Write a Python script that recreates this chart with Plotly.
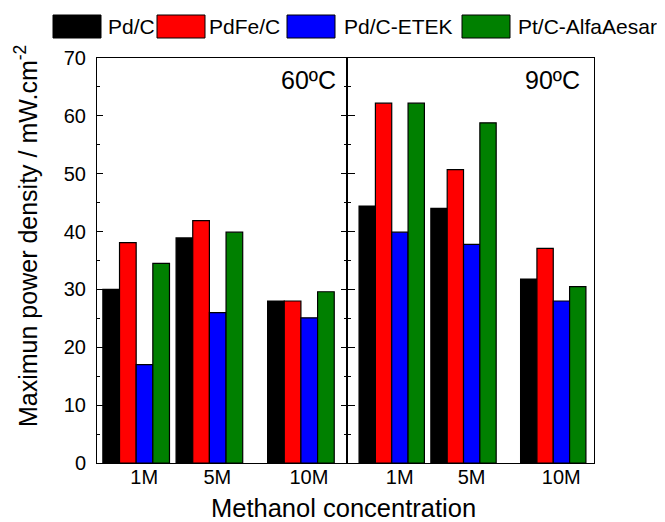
import plotly.graph_objects as go

# ---------------- data ----------------
series = ["Pd/C", "PdFe/C", "Pd/C-ETEK", "Pt/C-AlfaAesar"]
colors = ["#000000", "#FF0000", "#0000FF", "#008000"]
conc = [1, 5, 10]
conc_labels = ["1M", "5M", "10M"]
panel_labels = ["60ºC", "90ºC"]

pdc_60 = [30.0, 38.9, 28.0]
pdfec_60 = [38.1, 41.9, 28.0]
etek_60 = [17.0, 26.0, 25.1]
ptc_60 = [34.5, 39.9, 29.6]

pdc_90 = [44.4, 44.0, 31.8]
pdfec_90 = [62.2, 50.7, 37.1]
etek_90 = [39.9, 37.8, 28.0]
ptc_90 = [62.2, 58.8, 30.5]

panel_data = [
    [pdc_60, pdfec_60, etek_60, ptc_60],
    [pdc_90, pdfec_90, etek_90, ptc_90],
]

# ---------------- layout helpers ----------------
OFF = 8  # default page body margin
W, H = 665 - OFF, 522 - OFF
L, R, T, B = 97, 594, 58, 463  # plot area in reference px


def px_x(px):
    return (px - L) / (R - L)


def px_y(py):
    return (B - py) / (B - T)


split = px_x(346.5)
FONT = "Arial, Liberation Sans, sans-serif"

fig = go.Figure()
axes = [("x", "y"), ("x2", "y2")]
for p, (xa, ya) in enumerate(axes):
    for name, col, vals in zip(series, colors, panel_data[p]):
        fig.add_trace(go.Bar(
            x=conc, y=vals, name=name, xaxis=xa, yaxis=ya,
            marker=dict(color=col, line=dict(color="#000000", width=1.2)),
            showlegend=False,
        ))

xcommon = dict(
    tickmode="array", tickvals=conc, ticktext=conc_labels,
    ticks="", showline=True, linecolor="#000000", linewidth=1,
    mirror=True, showgrid=False, zeroline=False,
    tickfont=dict(size=20, family=FONT, color="#000000"),
    ticklabelshift=8, ticklabelstandoff=-4,
)
ycommon = dict(
    range=[0, 70], dtick=10, tick0=0, showline=True, linecolor="#000000",
    linewidth=1, showgrid=False, zeroline=False, ticks="inside",
    tickcolor="#000000",
    tickfont=dict(size=20, family=FONT, color="#000000"),
)

fig.update_layout(
    width=W, height=H,
    margin=dict(l=L - OFF, r=665 - R, t=T - OFF, b=522 - B, pad=0),
    paper_bgcolor="white", plot_bgcolor="white",
    barmode="group", bargap=0.09, bargroupgap=0,
    font=dict(family=FONT, color="#000000"),
    xaxis=dict(domain=[0, split], range=[-1.14, 12.49], anchor="y", **xcommon),
    xaxis2=dict(domain=[split, 1], range=[-1.52, 12.27], anchor="y2", **xcommon),
    yaxis=dict(anchor="x", ticklen=6, mirror="allticks", ticklabelstandoff=6,
               minor=dict(dtick=5, ticks="inside", ticklen=3, tickcolor="#000000"),
               **ycommon),
    yaxis2=dict(anchor="x2", ticklen=8, mirror=True, showticklabels=False,
                minor=dict(dtick=5, ticks="inside", ticklen=4, tickcolor="#000000"),
                **ycommon),
)

annotations = []
# panel labels
for lab, xpx in zip(panel_labels, [338, 582]):
    annotations.append(dict(
        text=lab, xref="paper", yref="paper", x=px_x(xpx), y=px_y(80),
        xanchor="right", yanchor="middle", showarrow=False,
        font=dict(size=25, family=FONT, color="#000000"),
    ))
# axis titles
annotations.append(dict(
    text="Maximun power density / mW.cm<sup>-2</sup>", textangle=-90,
    xref="paper", yref="paper", x=px_x(26), y=px_y(236),
    xanchor="center", yanchor="middle", showarrow=False,
    font=dict(size=25, family=FONT, color="#000000"),
))
annotations.append(dict(
    text="Methanol concentration",
    xref="paper", yref="paper", x=px_x(343), y=px_y(508),
    xanchor="center", yanchor="middle", showarrow=False,
    font=dict(size=25.5, family=FONT, color="#000000"),
))

# custom legend
box_x = [53, 157, 287, 462]
text_x = [106, 207, 342, 516]
shapes = []
for name, col, bx, tx in zip(series, colors, box_x, text_x):
    shapes.append(dict(
        type="rect", xref="paper", yref="paper",
        x0=px_x(bx), x1=px_x(bx + 48), y0=px_y(38), y1=px_y(15),
        fillcolor=col, line=dict(color="#000000", width=1),
    ))
    annotations.append(dict(
        text=name, xref="paper", yref="paper", x=px_x(tx), y=px_y(27),
        xanchor="left", yanchor="middle", showarrow=False,
        font=dict(size=21, family=FONT, color="#000000"),
    ))

fig.update_layout(annotations=annotations, shapes=shapes)
fig.write_html("out.html")
